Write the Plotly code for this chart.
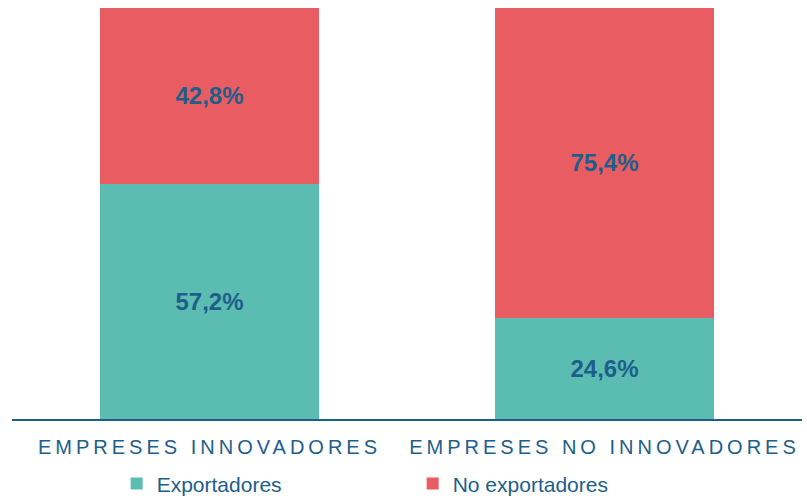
import plotly.graph_objects as go

categories = ["EMPRESES INNOVADORES", "EMPRESES NO INNOVADORES"]
series_names = ["Exportadores", "No exportadores"]
exportadores = [57.2, 24.6]
no_exportadores = [42.8, 75.4]

TEAL = "#5BBCB2"
RED = "#E95C61"
BLUE = "#1D5E8B"

fig = go.Figure()
for name, vals, col in [(series_names[0], exportadores, TEAL), (series_names[1], no_exportadores, RED)]:
    fig.add_trace(go.Bar(
        x=categories, y=vals, name=name,
        marker=dict(color=col, line=dict(width=0)),
        texttemplate="%{y:.1f}%", textposition="inside", insidetextanchor="middle",
        textfont=dict(family="Liberation Sans", size=24, color=BLUE, weight="bold"),
        hoverinfo="skip",
    ))

fig.update_layout(
    width=807, height=498,
    margin=dict(l=12, r=5, t=8, b=79, autoexpand=False),
    barmode="stack", bargap=0.446,
    separators=",.",
    plot_bgcolor="white", paper_bgcolor="white",
    font=dict(family="Liberation Sans", color=BLUE),
    showlegend=True,
    legend=dict(
        orientation="h", x=0.1325, xanchor="left", y=-0.158, yanchor="middle",
        font=dict(family="Liberation Sans", size=21, color=BLUE),
        traceorder="normal", entrywidth=251, entrywidthmode="pixels",
        bgcolor="rgba(0,0,0,0)",
    ),
    xaxis=dict(
        showline=True, linecolor=BLUE, linewidth=2, ticks="",
        tickfont=dict(family="Liberation Sans", size=20, color=BLUE),
        showgrid=False, zeroline=False, automargin=False, ticklabelstandoff=9,
    ),
    yaxis=dict(range=[0, 100], visible=False, showgrid=False, zeroline=False),
)

post = """
var gd = document.getElementById('{plot_id}');
function sp(){ gd.querySelectorAll('.xtick text').forEach(function(t){ t.style.letterSpacing='4px'; }); }
sp();
gd.on('plotly_afterplot', sp);
"""

fig.write_html("out.html", post_script=post)
